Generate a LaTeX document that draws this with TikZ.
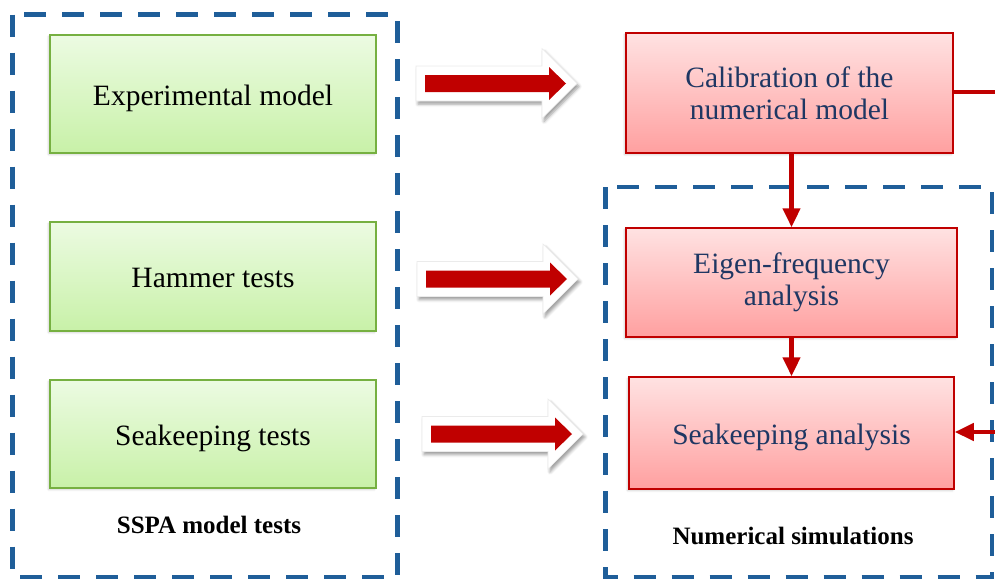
\documentclass[tikz,border=0pt]{standalone}
\usepackage{fontspec}
\setmainfont{Liberation Serif}
\usetikzlibrary{arrows.meta,shadows,shadows.blur}

\definecolor{dashblue}{RGB}{31,94,153}
\definecolor{redline}{RGB}{192,0,0}
\definecolor{greenline}{RGB}{118,176,65}
\definecolor{greentop}{RGB}{236,251,226}
\definecolor{greenbot}{RGB}{200,241,168}
\definecolor{redtop}{RGB}{255,226,226}
\definecolor{redbot}{RGB}{255,160,160}
\definecolor{navytext}{RGB}{31,55,99}

\tikzset{
	testbox/.style={draw=greenline, line width=1.5pt, top color=greentop, bottom color=greenbot,
		minimum width=326pt, align=center, font=\fontsize{29.5}{32}\selectfont,
		text height=28pt, text depth=6pt,
		blur shadow={shadow xshift=-1.5pt, shadow yshift=-1.5pt, shadow blur radius=2pt, shadow opacity=20}},
	simbox/.style={draw=redline, line width=1.5pt, top color=redtop, bottom color=redbot,
		align=center, text=navytext, font=\fontsize{29.5}{32}\selectfont,
		blur shadow={shadow xshift=-1.5pt, shadow yshift=-1.5pt, shadow blur radius=2pt, shadow opacity=20}},
	oneline/.style={text height=28pt, text depth=6pt},
	groupbox/.style={draw=dashblue, line width=4.5pt, dash pattern=on 22pt off 16pt},
	grouplabel/.style={font=\fontsize{25}{28}\selectfont\bfseries},
	flow/.style={draw=redline, line width=4.5pt, -{Triangle[width=17pt,length=19pt]}},
	blockarrow/.pic={
		\filldraw[white, draw=black!8, line width=0.6pt,
			blur shadow={shadow xshift=2pt, shadow yshift=-3pt, shadow blur radius=3pt, shadow opacity=40}]
			(0,-17.5) -- (126,-17.5) -- (126,-35) -- (161,0) -- (126,35) -- (126,17.5) -- (0,17.5) -- cycle;
		\fill[redline]
			(9,-8.5) -- (133,-8.5) -- (133,-16.5) -- (150,0) -- (133,16.5) -- (133,8.5) -- (9,8.5) -- cycle;
	}
}

\begin{document}
\begin{tikzpicture}[x=1pt, y=-1pt]
	\useasboundingbox (0,0) rectangle (995,581);

	% dashed groups
	\draw[groupbox] (12.5,14.5) rectangle (397.5,577);
	\draw[groupbox] (605.5,187) rectangle (992,577);
	\node[grouplabel] (ssp) at (209,525) {SSPA model tests};
	\node[grouplabel] (num) at (793,536) {Numerical simulations};

	% model tests
	\node[testbox, minimum height=118pt] (exp) at (213,94) {Experimental model};
	\node[testbox, minimum height=109pt] (ham) at (213,276.5) {Hammer tests};
	\node[testbox, minimum height=108pt] (sea) at (213,434) {Seakeeping tests};

	% simulations
	\node[simbox, minimum width=327pt, minimum height=120pt] (cal) at (789.5,93)
		{Calibration of the\\numerical model};
	\node[simbox, minimum width=331pt, minimum height=109pt] (eig) at (791.5,282.5)
		{Eigen-frequency\\analysis};
	\node[simbox, oneline, minimum width=325pt, minimum height=112pt] (san) at (791.5,433)
		{Seakeeping analysis};

	% block arrows
	\pic at (416,83.5) {blockarrow};
	\pic at (417,279) {blockarrow};
	\pic at (422,434) {blockarrow};

	% flow
	\draw[flow] (eig.north |- cal.south) -- (eig.north);
	\draw[flow] (eig.south) -- (eig.south |- san.north);

	\coordinate (calout) at (995,92);
	\coordinate (seain) at (995,432);
	\draw[redline, line width=4.5pt] (cal.east |- calout) -- (calout);
	\draw[flow] (seain) -- (san.east |- seain);
\end{tikzpicture}
\end{document}
